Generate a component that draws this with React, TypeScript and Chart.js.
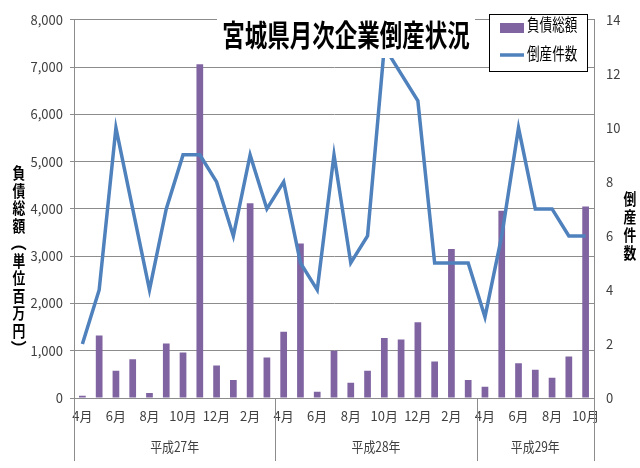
import { useEffect, useRef } from "react"
import { Chart, registerables } from "chart.js"

Chart.register(...registerables)

// 月 (平成27年4月〜平成29年10月)
const months = [
  "4月", "5月", "6月", "7月", "8月", "9月", "10月", "11月", "12月", "1月", "2月", "3月",
  "4月", "5月", "6月", "7月", "8月", "9月", "10月", "11月", "12月", "1月", "2月", "3月",
  "4月", "5月", "6月", "7月", "8月", "9月", "10月",
]
const yearLabels = ["平成27年", "平成28年", "平成29年"]
const yearMonthCounts = [12, 12, 7]

// 負債総額 (百万円)
const debtTotals = [
  50, 1320, 575, 820, 105, 1155, 960, 7060, 690, 380, 4120, 855,
  1400, 3270, 130, 1000, 320, 575, 1270, 1240, 1600, 770, 3150, 380,
  240, 3960, 735, 600, 430, 880, 4050,
]
// 倒産件数
const bankruptcyCounts = [
  2, 4, 10, 7, 4, 7, 9, 9, 8, 6, 9, 7,
  8, 5, 4, 9, 5, 6, 13, 12, 11, 5, 5, 5,
  3, 6, 10, 7, 7, 6, 6,
]

const chartTitle = "宮城県月次企業倒産状況"
const leftAxisTitle = "負債総額（単位百万円）"
const rightAxisTitle = "倒産件数"
const debtLabel = "負債総額"
const countLabel = "倒産件数"

const purple = "#8064a2"
const blue = "#4f81bd"
const gridColor = "#8c8c8c"
const textColor = "#404040"
const jp = '"Noto Sans CJK JP", "Noto Sans", sans-serif'

// squeeze text horizontally like the original picture
function drawNarrow(ctx: CanvasRenderingContext2D, text: string, x: number, y: number, sx: number) {
  ctx.save()
  ctx.translate(x, y)
  ctx.scale(sx, 1)
  ctx.fillText(text, 0, 0)
  ctx.restore()
}

function drawStacked(ctx: CanvasRenderingContext2D, text: string, x: number, y: number, step: number) {
  Array.from(text).forEach((ch, i) => {
    const cy = y + i * step
    if (ch === "（" || ch === "）") {
      ctx.save()
      ctx.translate(x, cy)
      ctx.rotate(Math.PI / 2)
      ctx.fillText(ch, 0, 0)
      ctx.restore()
    } else {
      drawNarrow(ctx, ch, x, cy, 0.8)
    }
  })
}

const overlay = {
  id: "overlay",
  afterDraw(chart: Chart) {
    const { ctx, chartArea } = chart
    const x = chart.scales.x
    ctx.save()

    // year groups under the month labels
    const bounds: number[] = [x.left]
    let count = 0
    yearMonthCounts.forEach((n) => {
      count += n
      if (count >= months.length) bounds.push(x.right)
      else bounds.push((x.getPixelForValue(count - 1) + x.getPixelForValue(count)) / 2)
    })
    ctx.strokeStyle = gridColor
    ctx.lineWidth = 1
    bounds.forEach((b) => {
      const bx = Math.round(b) + 0.5
      ctx.beginPath()
      ctx.moveTo(bx, chartArea.bottom)
      ctx.lineTo(bx, 461)
      ctx.stroke()
    })
    ctx.fillStyle = textColor
    ctx.font = `14px ${jp}`
    ctx.textAlign = "center"
    ctx.textBaseline = "middle"
    yearLabels.forEach((t, i) => drawNarrow(ctx, t, (bounds[i] + bounds[i + 1]) / 2, 447, 0.85))

    // title with white background
    ctx.fillStyle = "#ffffff"
    ctx.fillRect(217, 8, 258, 50)
    ctx.fillStyle = "#000000"
    ctx.font = `bold 30px ${jp}`
    drawNarrow(ctx, chartTitle, 346, 35, 0.75)

    // axis titles
    ctx.font = `bold 16px ${jp}`
    drawStacked(ctx, leftAxisTitle, 19, 173, 17.5)
    drawStacked(ctx, rightAxisTitle, 630, 199, 18)

    // legend
    ctx.fillStyle = "#ffffff"
    ctx.fillRect(489.5, 14.5, 98, 57)
    ctx.strokeStyle = "#000000"
    ctx.strokeRect(489.5, 14.5, 98, 57)
    ctx.fillStyle = purple
    ctx.fillRect(500, 23, 24, 10)
    ctx.strokeStyle = blue
    ctx.lineWidth = 3.5
    ctx.beginPath()
    ctx.moveTo(500, 55)
    ctx.lineTo(524, 55)
    ctx.stroke()
    ctx.fillStyle = "#000000"
    ctx.font = `17px ${jp}`
    ctx.textAlign = "left"
    drawNarrow(ctx, debtLabel, 527, 25, 0.74)
    drawNarrow(ctx, countLabel, 527, 54, 0.74)

    ctx.restore()
  },
}

export default function App() {
  const canvasRef = useRef<HTMLCanvasElement>(null)

  useEffect(() => {
    if (!canvasRef.current) return
    const chart = new Chart(canvasRef.current, {
      type: "bar",
      data: {
        labels: months,
        datasets: [
          {
            type: "line",
            label: countLabel,
            data: bankruptcyCounts,
            yAxisID: "y1",
            borderColor: blue,
            borderWidth: 3.5,
            pointRadius: 0,
            tension: 0,
            fill: false,
            order: 0,
          },
          {
            type: "bar",
            label: debtLabel,
            data: debtTotals,
            yAxisID: "y",
            backgroundColor: purple,
            barPercentage: 0.4,
            categoryPercentage: 1,
            order: 1,
          },
        ],
      },
      options: {
        animation: false,
        responsive: true,
        maintainAspectRatio: false,
        layout: { padding: { top: 18, left: 0, right: 0, bottom: 0 } },
        plugins: {
          legend: { display: false },
          title: { display: false },
          tooltip: { enabled: false },
        },
        scales: {
          x: {
            grid: { display: false, drawTicks: false },
            border: { display: true, color: gridColor },
            ticks: {
              autoSkip: false,
              maxRotation: 0,
              padding: 10,
              color: textColor,
              font: { family: jp, size: 13 },
              callback: (_v, i) => (i % 2 === 0 ? months[i] : ""),
            },
            afterFit: (scale) => {
              scale.height = 70
            },
          },
          y: {
            position: "left",
            min: 0,
            max: 8000,
            ticks: {
              stepSize: 1000,
              padding: 7,
              color: textColor,
              font: { family: jp, size: 13 },
              callback: (v) => Number(v).toLocaleString("en-US"),
            },
            grid: { color: gridColor, tickLength: 4 },
            border: { display: true, color: gridColor },
            afterFit: (scale) => {
              scale.width = 74
            },
          },
          y1: {
            position: "right",
            min: 0,
            max: 14,
            ticks: {
              stepSize: 2,
              padding: 12,
              color: textColor,
              font: { family: jp, size: 13 },
            },
            grid: { display: false, drawTicks: false },
            border: { display: true, color: gridColor },
            afterFit: (scale) => {
              scale.width = 46
            },
          },
        },
      },
      plugins: [overlay],
    })
    return () => chart.destroy()
  }, [])

  return (
    <div style={{ position: "fixed", left: 0, top: 0, width: 640, height: 468, background: "#fff" }}>
      <canvas ref={canvasRef} />
    </div>
  )
}
